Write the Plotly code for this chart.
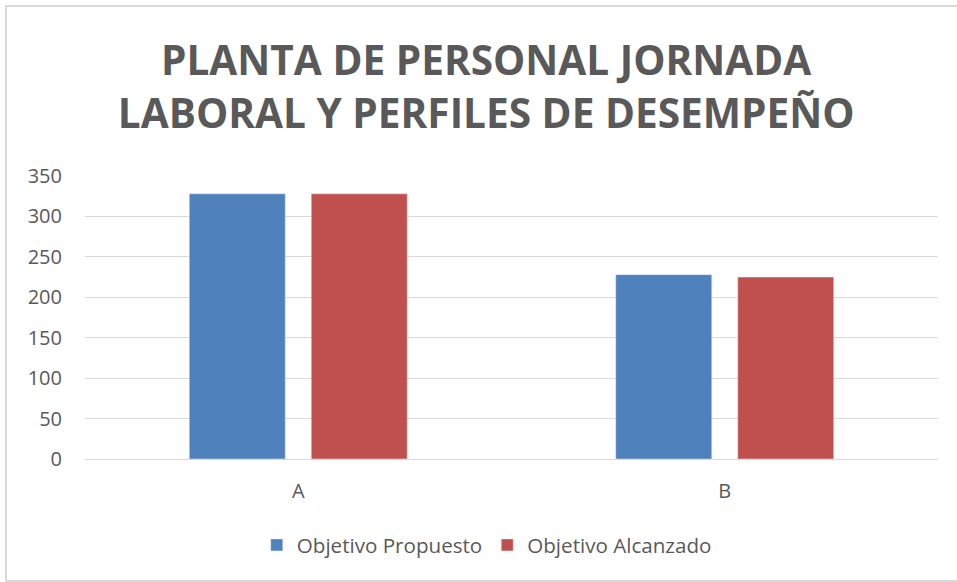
import plotly.graph_objects as go

categorias = ["A", "B"]
propuesto = [328, 228]
alcanzado = [328, 225]

gris = "#595959"

fig = go.Figure()
fig.add_trace(go.Bar(x=categorias, y=propuesto, name="Objetivo Propuesto",
                     marker=dict(color="#4f81bd")))
fig.add_trace(go.Bar(x=categorias, y=alcanzado, name="Objetivo Alcanzado",
                     marker=dict(color="#c0504d")))

fig.update_layout(
    width=957, height=582,
    margin=dict(l=85, r=19, t=176, b=123),
    paper_bgcolor="white", plot_bgcolor="white",
    font=dict(family="Open Sans, Liberation Sans, sans-serif", color=gris, size=20),
    title=dict(text="<b>PLANTA DE PERSONAL JORNADA<br>LABORAL Y PERFILES DE DESEMPEÑO</b>",
               x=0.508, xanchor="center", y=0.871, yanchor="middle",
               font=dict(size=40.6, color=gris, family="Open Sans, sans-serif")),
    barmode="group", bargap=0.428, bargroupgap=0.213,
    legend=dict(orientation="h", x=0.471, xanchor="center", y=-0.304, yanchor="middle",
                font=dict(size=20.6, color=gris), itemwidth=30, traceorder="normal"),
    showlegend=True,
)
fig.update_yaxes(range=[0, 350], dtick=50, showgrid=True, gridcolor="#d9d9d9",
                 gridwidth=1, zeroline=False, showline=False, ticks="",
                 ticklabelstandoff=22, tickfont=dict(size=20, color=gris))
fig.update_xaxes(showline=True, linecolor="#d9d9d9", linewidth=1, ticks="",
                 tickfont=dict(size=20, color=gris), ticklabelstandoff=14)

# marco gris del grafico: izquierda, arriba y abajo (el lado derecho no se ve)
izq = (6 - 85) / 853
arriba = 1 + (176 - 6) / 283
abajo = -(581 - 459) / 283
fig.add_shape(type="path", xref="paper", yref="paper",
              path=f"M 1.1 {arriba} L {izq} {arriba} L {izq} {abajo} L 1.1 {abajo}",
              line=dict(color="#d9d9d9", width=2))

# sin margen del body, para que la figura ocupe toda la ventana sin barras
fig.write_html("out.html", config={"displayModeBar": False},
               post_script="document.body.style.margin='0';document.body.style.overflow='hidden';")
